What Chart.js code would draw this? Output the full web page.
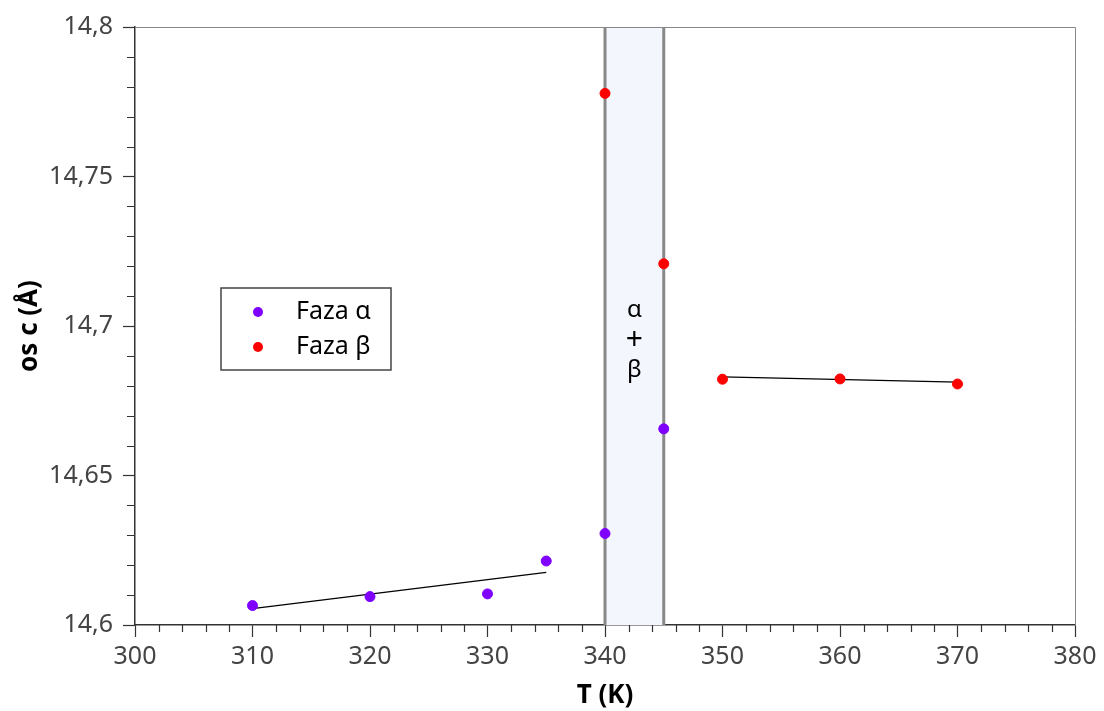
<!DOCTYPE html>
<html>
<head>
<meta charset="utf-8">
<script src="https://cdn.jsdelivr.net/npm/chart.js@4"></script>
<style>
  html, body { margin: 0; padding: 0; background: #fff; }
  #wrap { width: 1104px; height: 711px; }
</style>
</head>
<body>
<div id="wrap"><canvas id="c" width="1104" height="711"></canvas></div>
<script>
// dane
const alphaT = [310, 320, 330, 335, 340, 345];
const alphaC = [14.6065, 14.6095, 14.6104, 14.6214, 14.6306, 14.6656];
const betaT = [340, 345, 350, 360, 370];
const betaC = [14.7778, 14.7208, 14.6822, 14.6823, 14.6806];
const alphaFitT = [310, 335];
const alphaFitC = [14.6055, 14.6176];
const betaFitT = [350, 370];
const betaFitC = [14.6830, 14.6812];
const bandT = [340, 345];          // obszar współistnienia faz
const bandText = ["α", "+", "β"];
const xTicksMinor = [];            // co 2 K
for (let t = 300; t <= 380; t += 2) xTicksMinor.push(t);
const yTicksMinor = [];            // co 0,01
for (let i = 0; i <= 20; i++) yTicksMinor.push(14.6 + i * 0.01);

const FONT = "'Noto Sans', 'Open Sans', sans-serif";
const PURPLE = "#7f00ff";
const RED = "#ff0000";

function pts(xs, ys) {
    return xs.map((x, i) => ({ x: x, y: ys[i] }));
}

function fmt(v) {
    return String(Math.round(v * 100) / 100).replace(".", ",");
}

const bandPlugin = {
    id: "band",
    beforeDatasetsDraw(chart) {
        const { ctx, chartArea, scales } = chart;
        const x1 = scales.x.getPixelForValue(bandT[0]);
        const x2 = scales.x.getPixelForValue(bandT[1]);
        ctx.save();
        ctx.fillStyle = "#f3f6fd";
        ctx.fillRect(x1, chartArea.top, x2 - x1, chartArea.bottom - chartArea.top);
        ctx.strokeStyle = "#888";
        ctx.lineWidth = 3;
        for (const x of [x1, x2]) {
            ctx.beginPath();
            ctx.moveTo(x, chartArea.top);
            ctx.lineTo(x, chartArea.bottom);
            ctx.stroke();
        }
        ctx.fillStyle = "#000";
        ctx.textAlign = "center";
        ctx.textBaseline = "middle";
        const cx = (x1 + x2) / 2;
        bandText.forEach((s, i) => {
            ctx.font = (s === "+" ? "30px " : "24px ") + FONT;
            ctx.fillText(s, cx, 310 + i * 30);
        });
        ctx.restore();
    }
};

const framePlugin = {
    id: "frame",
    afterDraw(chart) {
        const { ctx, chartArea, scales } = chart;
        ctx.save();
        // górna i prawa ramka
        ctx.strokeStyle = "#888";
        ctx.lineWidth = 1;
        ctx.beginPath();
        ctx.moveTo(chartArea.left, chartArea.top + 0.5);
        ctx.lineTo(chartArea.right + 0.5, chartArea.top + 0.5);
        ctx.lineTo(chartArea.right + 0.5, chartArea.bottom);
        ctx.stroke();

        // drobne podziałki
        ctx.strokeStyle = "#333";
        ctx.lineWidth = 1.2;
        ctx.beginPath();
        for (const t of xTicksMinor) {
            if (t % 10 === 0) continue;
            const x = Math.round(scales.x.getPixelForValue(t)) + 0.5;
            ctx.moveTo(x, chartArea.bottom);
            ctx.lineTo(x, chartArea.bottom + 7);
        }
        for (const v of yTicksMinor) {
            if (Math.round(v * 100) % 5 === 0) continue;
            const y = Math.round(scales.y.getPixelForValue(v)) + 0.5;
            ctx.moveTo(chartArea.left, y);
            ctx.lineTo(chartArea.left - 8, y);
        }
        ctx.stroke();

        // legenda
        const lx = 221, ly = 288, lw = 170, lh = 82;
        ctx.fillStyle = "#fff";
        ctx.fillRect(lx, ly, lw, lh);
        ctx.strokeStyle = "#444";
        ctx.lineWidth = 1.5;
        ctx.strokeRect(lx, ly, lw, lh);
        const items = [chart.data.datasets[0], chart.data.datasets[1]];
        ctx.font = "25px " + FONT;
        ctx.textBaseline = "middle";
        ctx.textAlign = "left";
        items.forEach((ds, i) => {
            const y = ly + 24 + i * 35;
            ctx.fillStyle = ds.backgroundColor;
            ctx.beginPath();
            ctx.arc(lx + 37, y, 5, 0, Math.PI * 2);
            ctx.fill();
            ctx.fillStyle = "#000";
            ctx.fillText(ds.label, lx + 75, y);
        });
        ctx.restore();
    }
};

new Chart(document.getElementById("c"), {
    type: "scatter",
    data: {
        datasets: [
            {
                label: "Faza α",
                data: pts(alphaT, alphaC),
                backgroundColor: PURPLE,
                borderColor: PURPLE,
                pointRadius: 5,
                order: 1
            },
            {
                label: "Faza β",
                data: pts(betaT, betaC),
                backgroundColor: RED,
                borderColor: RED,
                pointRadius: 5,
                order: 1
            },
            {
                label: "fit α",
                type: "line",
                data: pts(alphaFitT, alphaFitC),
                borderColor: "#000",
                borderWidth: 1.2,
                pointRadius: 0,
                fill: false,
                order: 2
            },
            {
                label: "fit β",
                type: "line",
                data: pts(betaFitT, betaFitC),
                borderColor: "#000",
                borderWidth: 1.2,
                pointRadius: 0,
                fill: false,
                order: 2
            }
        ]
    },
    options: {
        responsive: false,
        animation: false,
        layout: { padding: { top: 27, right: 29, left: 0, bottom: 0 } },
        plugins: {
            legend: { display: false },
            tooltip: { enabled: false }
        },
        scales: {
            x: {
                type: "linear",
                min: 300,
                max: 380,
                ticks: {
                    stepSize: 10,
                    color: "#444",
                    padding: 5,
                    font: { family: FONT, size: 25 }
                },
                grid: { drawOnChartArea: false, tickLength: 12, color: "#333", tickWidth: 1.2 },
                border: { color: "#333", width: 1.5 },
                title: {
                    display: true,
                    text: "T (K)",
                    color: "#000",
                    padding: { top: 0, bottom: 0 },
                    font: { family: FONT, size: 26, weight: "bold" }
                },
                afterFit(scale) { scale.height = 86; }
            },
            y: {
                min: 14.6,
                max: 14.8,
                ticks: {
                    stepSize: 0.05,
                    color: "#444",
                    padding: 10,
                    font: { family: FONT, size: 25 },
                    callback: (v) => fmt(v)
                },
                grid: { drawOnChartArea: false, tickLength: 12, color: "#333", tickWidth: 1.2 },
                border: { color: "#333", width: 1.5 },
                title: {
                    display: true,
                    text: "os c (Å)",
                    color: "#000",
                    padding: { top: 14, bottom: 0 },
                    font: { family: FONT, size: 26, weight: "bold" }
                },
                afterFit(scale) { scale.width = 135; }
            }
        }
    },
    plugins: [bandPlugin, framePlugin]
});
</script>
</body>
</html>
